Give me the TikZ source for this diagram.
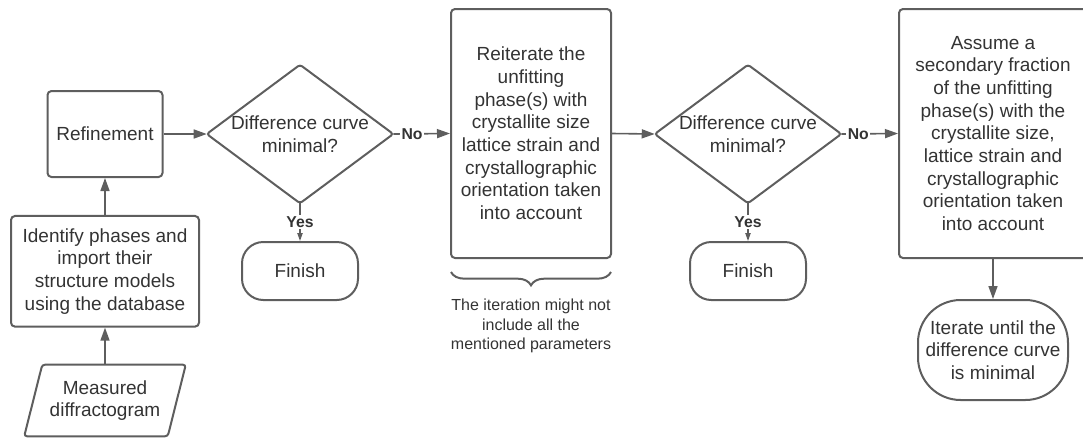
\documentclass[tikz,border=0pt]{standalone}
\usepackage{fontspec}
\setmainfont{Liberation Sans}
\usetikzlibrary{arrows.meta,calc,decorations.pathreplacing}
\definecolor{lc}{RGB}{94,94,94}
\definecolor{tc}{RGB}{51,51,51}
\newcommand\mainsz{\fontsize{14.25}{17}\selectfont}
\newcommand\notesz{\fontsize{12}{14.6}\selectfont}
\newcommand\labsz{\fontsize{11.8}{14}\selectfont\bfseries}
\begin{document}
\begin{tikzpicture}[x=0.75pt,y=-0.75pt,
  nodetext/.style={align=center, font=\mainsz, text=tc, inner sep=0pt},
  bx/.style={nodetext, draw=lc, line width=1.5pt, rounded corners=3pt},
  shp/.style={draw=lc, line width=1.5pt, rounded corners=2pt, line join=round},
  arr/.style={draw=lc, line width=1.2pt, -{Triangle[length=9.75pt,width=6.75pt]}},
  yarr/.style={draw=lc, line width=0.9pt, -{Triangle[length=6pt,width=4pt]}},
  lab/.style={font=\labsz, text=tc, fill=white, inner sep=1pt},
  brc/.style={draw=lc, line width=1.5pt}]
\useasboundingbox (0,0) rectangle (1083,437);

% left column
\node[bx, minimum width=86.25pt, minimum height=64.5pt] (ref) at (105,134) {Refinement};
\node[bx, minimum width=141pt, minimum height=83pt] (ident) at (105,271.3) {Identify phases and\\import their\\structure models\\using the database};
\node[nodetext, minimum width=107.25pt, minimum height=53.25pt] (meas) at (105,400.5) {Measured\\diffractogram};
\draw[shp] ($(meas.north west)+(9,0)$) -- ($(meas.north east)+(9,0)$) -- ($(meas.south east)+(-9,0)$) -- ($(meas.south west)+(-9,0)$) -- cycle;

% first decision
\node[nodetext, minimum width=139.5pt, minimum height=103.5pt] (d1) at (300,134) {Difference curve\\minimal?};
\draw[shp] (d1.north) -- (d1.east) -- (d1.south) -- (d1.west) -- cycle;
\node[bx, rounded corners=16pt, minimum width=87pt, minimum height=43.5pt] (f1) at (300,271) {Finish};

% reiterate
\node[bx, minimum width=120pt, minimum height=186.75pt] (rei) at (531,133.5) {Reiterate the\\unfitting\\phase(s) with\\crystallite size\\lattice strain and\\crystallographic\\orientation taken\\into account};
\draw[brc, decorate, decoration={brace, mirror, amplitude=10pt}] ($(rei.south west)+(1,13)$) -- ($(rei.south east)+(-1,13)$);
\node[nodetext, font=\notesz] (note) at (531,326) {The iteration might not\\include all the\\mentioned parameters};

% second decision
\node[nodetext, minimum width=139.5pt, minimum height=103.5pt] (d2) at (748,134) {Difference curve\\minimal?};
\draw[shp] (d2.north) -- (d2.east) -- (d2.south) -- (d2.west) -- cycle;
\node[bx, rounded corners=16pt, minimum width=87pt, minimum height=43.5pt] (f2) at (748,271) {Finish};

% right column
\node[bx, minimum width=141pt, minimum height=186.75pt] (asm) at (993,133.5) {Assume a\\secondary fraction\\of the unfitting\\phase(s) with the\\crystallite size,\\lattice strain and\\crystallographic\\orientation taken\\into account};
\node[bx, rounded corners=32pt, minimum width=112.5pt, minimum height=75pt] (iter) at (993,350) {Iterate until the\\difference curve\\is minimal};

% connectors
\draw[arr] (meas.north) -- (ident.south);
\draw[arr] (ident.north) -- (ref.south);
\draw[arr] (ref.east) -- (d1.west);
\draw[arr] (d1.east) -- node[lab, pos=0.33] {No} (rei.west);
\draw[arr] (rei.east) -- (d2.west);
\draw[arr] (d2.east) -- node[lab, pos=0.3] {No} (asm.west);
\draw[yarr] (d1.south) -- node[lab] {Yes} (f1.north);
\draw[yarr] (d2.south) -- node[lab] {Yes} (f2.north);
\draw[arr] (asm.south) -- (iter.north);
\end{tikzpicture}
\end{document}
